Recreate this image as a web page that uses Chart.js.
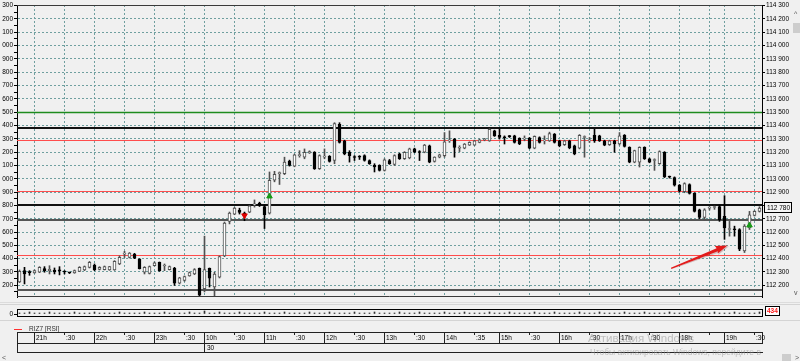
<!DOCTYPE html>
<html>
<head>
<meta charset="utf-8">
<script src="https://cdn.jsdelivr.net/npm/chart.js@4.4.1/dist/chart.umd.min.js"></script>
<style>
  html, body { margin: 0; padding: 0; }
  body { width: 800px; height: 361px; background: #f0f0f0; position: relative; overflow: hidden;
         font-family: "Liberation Sans", Arial, sans-serif; font-size: 6.5px; color: #000; }
  .a { position: absolute; }
  .t { position: absolute; white-space: nowrap; line-height: 1; color: #000; }
  #deco { position: absolute; left: 0; top: 0; width: 800px; height: 361px; opacity: 0.999; pointer-events: none; }
  #mainC { position: absolute; left: 0; top: 0; }
  #volC { position: absolute; left: 0; top: 306px; }
</style>
</head>
<body>
<canvas id="mainC" width="800" height="302"></canvas>
<canvas id="volC" width="800" height="13"></canvas>
<div id="deco"></div>
<script>
// ---- данные свечей (5 мин) ----
const opens = [112225,112310,112300,112293,112298,112325,112310,112315,112310,112303,112295,112293,112305,112315,112335,112350,112320,112318,112315,112315,
  112360,112434,112409,112434,112397,112298,112290,112347,112372,112345,112318,112327,112216,112236,112271,112285,112327,112174,112327,112187,
  112261,112421,112680,112735,112765,112742,112750,112804,112816,112792,112742,112989,113039,113039,113132,113095,113174,113162,113194,113199,
  113076,113162,113169,113137,113409,113285,113199,113162,113164,113174,113137,113100,113100,113063,113137,113108,113187,113150,113157,113224,
  113199,113199,113248,113130,113162,113174,113285,113298,113229,113229,113253,113253,113273,113293,113285,113360,113327,113310,113318,113322,
  113303,113298,113305,113229,113310,113285,113285,113335,113285,113256,113285,113248,113229,113310,113285,113327,113322,113285,113256,113285,
  113261,113327,113236,113125,113125,113236,113150,113137,113113,113199,113014,113009,112952,112903,112957,112890,112767,112710,112779,112784,
  112792,112718,112619,112619,112619,112458,112631,112725,112755];
const highs = [112315,112335,112310,112315,112340,112340,112347,112330,112340,112310,112298,112315,112340,112345,112379,112360,112340,112345,112342,112385,
  112421,112455,112446,112440,112400,112340,112345,112375,112375,112360,112345,112335,112260,112270,112300,112325,112330,112569,112330,112298,
  112420,112675,112750,112785,112779,112750,112800,112841,112824,112804,113051,113056,113051,113162,113140,113185,113211,113224,113210,113204,
  113180,113224,113174,113421,113421,113290,113211,113174,113174,113180,113142,113113,113105,113150,113145,113180,113192,113204,113230,113230,
  113211,113258,113253,113165,113185,113347,113360,113303,113248,113265,113278,113290,113298,113303,113377,113365,113372,113322,113325,113327,
  113308,113322,113310,113322,113315,113322,113350,113340,113290,113290,113290,113253,113332,113322,113310,113372,113327,113290,113290,113290,
  113347,113332,113240,113215,113240,113240,113155,113150,113210,113204,113020,113014,112957,112970,112962,112895,112772,112775,112790,112795,
  112804,112873,112680,112644,112625,112656,112755,112760,112790];
const lows = [112220,112210,112275,112290,112295,112298,112285,112285,112278,112285,112288,112290,112303,112310,112330,112310,112315,112315,112312,112312,
  112355,112409,112405,112400,112322,112285,112285,112345,112305,112310,112315,112199,112210,112230,112268,112280,112115,112150,112187,112113,
  112255,112415,112661,112730,112735,112685,112745,112787,112792,112626,112735,112977,112957,113031,113095,113090,113162,113150,113190,113070,
  113070,113150,113125,113113,113268,113180,113125,113137,113145,113132,113108,113051,113058,113058,113108,113100,113145,113145,113150,113195,
  113137,113195,113120,113125,113157,113162,113273,113162,113204,113225,113250,113250,113270,113285,113281,113318,113298,113261,113310,113268,
  113256,113285,113225,113225,113268,113261,113280,113268,113240,113250,113225,113180,113224,113162,113273,113273,113280,113248,113250,113199,
  113253,113238,113120,113120,113088,113145,113120,113063,113108,113009,113005,112945,112900,112895,112885,112750,112700,112690,112765,112770,
  112680,112545,112569,112569,112460,112446,112619,112720,112750];
const closes = [112305,112285,112295,112310,112335,112310,112320,112300,112308,112300,112293,112310,112335,112340,112372,112315,112335,112340,112340,112379,
  112409,112436,112441,112404,112325,112335,112340,112369,112310,112347,112340,112216,112256,112266,112295,112318,112125,112318,112253,112285,
  112416,112668,112742,112779,112747,112732,112797,112806,112804,112730,112989,113034,113041,113125,113100,113179,113176,113199,113204,113076,
  113174,113164,113130,113414,113273,113187,113174,113160,113162,113137,113113,113088,113063,113142,113113,113174,113150,113199,113224,113199,
  113197,113253,113125,113162,113179,113278,113287,113236,113231,113261,113273,113285,113293,113295,113372,113322,113310,113308,113316,113273,
  113261,113300,113229,113318,113273,113287,113340,113273,113248,113285,113231,113187,113327,113312,113287,113285,113285,113253,113285,113261,
  113322,113243,113125,113211,113236,113150,113125,113139,113204,113014,113012,112952,112908,112964,112890,112755,112710,112767,112781,112786,
  112693,112631,112621,112617,112471,112644,112730,112755,112780];

// нижняя панель RIZ7 [RSI] — мелкие отметки у нуля
const subVals = [1,1,2,1,1,1,2,1,1,1,1,2,1,1,1,2,1,1,1,1,2,1,1,1,1,2,1,1,1,2,1,1,1,1,2,1,1,3,1,1,
  2,1,1,1,2,1,1,1,1,2,1,1,1,2,1,1,1,1,2,1,1,1,2,1,1,1,1,2,1,1,1,2,1,1,1,1,2,1,1,1,
  2,1,1,1,1,2,1,1,1,2,1,1,1,1,2,1,1,1,2,1,1,1,1,2,1,1,1,2,1,1,1,1,2,1,1,1,2,1,1,1,
  1,2,1,1,1,2,1,1,1,1,2,1,1,1,2,1,1,1,1,2,1,1,1,2,1,1,1,1,2];
const subLast = '434';

// ценовая шкала
const priceTicks = [112200,112300,112400,112500,112600,112700,112800,112900,113000,113100,113200,
  113300,113400,113500,113600,113700,113800,113900,114000,114100,114200,114300];
const halfTicks = priceTicks.map(v => v - 50);

// уровни (горизонтальные линии)
const levelPrices = [113500, 113380, 113290, 112910, 112805, 112690, 112430, 112165];
const levelColors = ['#1e8c1e', '#111111', '#ff4c4c', '#ff4c4c', '#111111', '#555555', '#ff4c4c', '#555555'];
const levelWidths = [1.5, 2, 1, 1, 2, 2, 1, 2];

// сигналы
const sellIdx = [45], sellPrice = [112724];
const buyIdx = [50, 146], buyPrice = [112868, 112650];

// стрелка (в координатах данных)
const arrowFrom = [130.3, 112330], arrowTo = [141.6, 112498];

// шкала времени
const timeIdx = [3, 9, 15, 21, 27, 33, 37, 43, 49, 55, 61, 67, 73, 79, 85, 91, 96, 102, 108, 114, 120, 126, 132, 138, 141, 147];
const timeLabels = ['21h', ':30', '22h', ':30', '23h', ':30', '10h', ':30', '11h', ':30', '12h', ':30', '13h', ':30', '14h', ':35',
  '15h', ':30', '16h', ':30', '17h', ':30', '18h', '', '19h', ':30'];
const dayIdx = 37, dayLabel = '30';

const yMin = 112112, yMax = 114305;
const GRID = '#6f9f9f';
const FONT = { family: '"Liberation Sans", Arial, sans-serif', size: 6.5 };
const cats = opens.map((_, i) => i);
const isUp = i => closes[i] >= opens[i];

const fmtR = v => Math.floor(v / 1000) + ' ' + String(v % 1000).padStart(3, '0');
const fmtL = v => String(v % 1000).padStart(3, '0');

const overlay = {
  id: 'overlay',
  beforeDatasetsDraw(chart) {
    const { ctx, chartArea: a, scales: { y } } = chart;
    ctx.save();
    levelPrices.forEach((p, k) => {
      const py = Math.round(y.getPixelForValue(p)) + (levelWidths[k] % 2 ? 0.5 : 0);
      ctx.strokeStyle = levelColors[k];
      ctx.lineWidth = levelWidths[k];
      ctx.beginPath(); ctx.moveTo(a.left, py); ctx.lineTo(a.right, py); ctx.stroke();
    });
    ctx.restore();
  },
  afterDatasetsDraw(chart) {
    const { ctx, chartArea: a, scales: { x, y } } = chart;
    // стрелка
    const x1 = x.getPixelForValue(arrowFrom[0]), y1 = y.getPixelForValue(arrowFrom[1]);
    const x2 = x.getPixelForValue(arrowTo[0]), y2 = y.getPixelForValue(arrowTo[1]);
    const ang = Math.atan2(y2 - y1, x2 - x1);
    const len = Math.hypot(x2 - x1, y2 - y1);
    ctx.save();
    ctx.translate(x1, y1); ctx.rotate(ang);
    ctx.fillStyle = 'rgba(110,0,0,0.22)';
    ctx.beginPath();
    ctx.moveTo(1, 1.6); ctx.lineTo(len - 11, 3.2); ctx.lineTo(len - 12, 5.4); ctx.lineTo(len + 1, 1.2); ctx.lineTo(len - 12, -2); ctx.lineTo(len - 11, 0.6); ctx.closePath();
    ctx.fill();
    ctx.fillStyle = '#e21b1b';
    ctx.beginPath();
    ctx.moveTo(0, -0.3); ctx.lineTo(len - 11, -1.6); ctx.lineTo(len - 12, -4.2); ctx.lineTo(len, 0); ctx.lineTo(len - 12, 3.8); ctx.lineTo(len - 11, 1.6); ctx.lineTo(0, 1.1); ctx.closePath();
    ctx.fill();
    ctx.restore();
    // рамка
    ctx.save();
    ctx.strokeStyle = '#3a3a3a'; ctx.lineWidth = 1;
    ctx.beginPath();
    ctx.moveTo(a.left, Math.round(a.top) + 0.5); ctx.lineTo(a.right, Math.round(a.top) + 0.5);
    ctx.moveTo(a.left, Math.round(a.bottom) - 0.5); ctx.lineTo(a.right, Math.round(a.bottom) - 0.5);
    ctx.stroke();
    // метка последней цены
    const last = closes[closes.length - 1];
    const ly = Math.round(y.getPixelForValue(last));
    ctx.fillStyle = '#f4f4f4';
    ctx.fillRect(a.right + 2, ly - 6, 28, 11);
    ctx.strokeStyle = '#000';
    ctx.strokeRect(a.right + 2.5, ly - 5.5, 27, 10);
    ctx.fillStyle = '#000';
    ctx.font = '6.5px "Liberation Sans", Arial, sans-serif';
    ctx.textBaseline = 'middle';
    ctx.fillText(fmtR(last), a.right + 5, ly);
    ctx.restore();
  }
};

const mainChart = new Chart(document.getElementById('mainC'), {
  type: 'bar',
  data: {
    labels: cats,
    datasets: [
      {
        type: 'scatter', label: 'sell', order: 0,
        data: sellIdx.map((ix, k) => ({ x: ix, y: sellPrice[k] })),
        pointStyle: 'triangle', rotation: 180, radius: 3.2,
        backgroundColor: '#e00000', borderColor: '#e00000', borderWidth: 1
      },
      {
        type: 'scatter', label: 'buy', order: 0,
        data: buyIdx.map((ix, k) => ({ x: ix, y: buyPrice[k] })),
        pointStyle: 'triangle', radius: 3.2,
        backgroundColor: '#169a16', borderColor: '#169a16', borderWidth: 1
      },
      {
        label: 'body', order: 1, grouped: false,
        data: opens.map((o, i) => [o, closes[i]]),
        barThickness: 3, minBarLength: 1, borderSkipped: false, borderWidth: 1,
        backgroundColor: c => isUp(c.dataIndex) ? '#ffffff' : '#000000',
        borderColor: c => isUp(c.dataIndex) ? '#505050' : '#000000'
      },
      {
        label: 'wick', order: 2, grouped: false,
        data: lows.map((l, i) => [l, highs[i]]),
        barThickness: 1, borderWidth: 0,
        backgroundColor: c => isUp(c.dataIndex) ? '#505050' : '#000000'
      }
    ]
  },
  options: {
    responsive: false, animation: false,
    layout: { padding: { top: 4, bottom: 2, left: 0, right: 7 } },
    plugins: { legend: { display: false }, tooltip: { enabled: false } },
    scales: {
      x: {
        type: 'category', offset: true,
        ticks: { display: false },
        grid: { offset: false, drawTicks: false, lineWidth: 1,
                color: c => timeIdx.includes(c.index) ? GRID : 'rgba(0,0,0,0)' },
        border: { display: false, dash: [2, 2] }
      },
      y: {
        position: 'left', min: yMin, max: yMax,
        afterBuildTicks: s => { s.ticks = priceTicks.concat(halfTicks).sort((p, q) => p - q).map(v => ({ value: v })); },
        ticks: { autoSkip: false, font: FONT, color: '#000', padding: 1,
                 callback: v => (v % 100 === 0 ? fmtL(v) : '') },
        grid: { tickLength: 3, tickColor: '#000', lineWidth: 1,
                color: c => (c.tick && c.tick.value % 100 === 0 ? GRID : 'rgba(0,0,0,0)') },
        border: { color: '#000', width: 1, dash: [2, 2] },
        afterFit: s => { s.width = 17; s.paddingTop = 0; s.paddingBottom = 0; }
      },
      y2: {
        position: 'right', min: yMin, max: yMax,
        afterBuildTicks: s => { s.ticks = priceTicks.map(v => ({ value: v })); },
        ticks: { autoSkip: false, font: FONT, color: '#000', padding: 1, callback: v => fmtR(v) },
        grid: { drawOnChartArea: false, tickLength: 3, tickColor: '#000' },
        border: { color: '#000', width: 1 },
        afterFit: s => { s.width = 31; s.paddingTop = 0; s.paddingBottom = 0; }
      }
    }
  },
  plugins: [overlay]
});

// нижняя панель
const subFrame = {
  id: 'subFrame',
  afterDraw(chart) {
    const { ctx, chartArea: a } = chart;
    ctx.save();
    ctx.strokeStyle = '#000'; ctx.lineWidth = 1;
    ctx.strokeRect(Math.round(a.left) + 0.5, Math.round(a.top) + 0.5, Math.round(a.right - a.left), Math.round(a.bottom - a.top) - 1);
    ctx.fillStyle = '#fff';
    ctx.fillRect(a.right + 3, 0, 15, 10);
    ctx.strokeRect(a.right + 3.5, 0.5, 14, 9);
    ctx.fillStyle = '#ff1a1a';
    ctx.font = 'bold 6.5px "Liberation Sans", Arial, sans-serif';
    ctx.textBaseline = 'middle';
    ctx.fillText(subLast, a.right + 5, 5.5);
    ctx.restore();
  }
};
new Chart(document.getElementById('volC'), {
  type: 'bar',
  data: { labels: cats, datasets: [{ data: subVals, backgroundColor: '#333', barThickness: 1, borderWidth: 0 }] },
  options: {
    responsive: false, animation: false,
    layout: { padding: { top: 3, bottom: 2, left: 0, right: 7 } },
    plugins: { legend: { display: false }, tooltip: { enabled: false } },
    scales: {
      x: { offset: true, display: false },
      y: {
        position: 'left', min: -3, max: 5,
        afterBuildTicks: s => { s.ticks = [{ value: 0 }]; },
        ticks: { font: FONT, color: '#000', padding: 1, callback: () => '0' },
        grid: { drawOnChartArea: false, tickLength: 3, tickColor: '#000' },
        border: { display: false },
        afterFit: s => { s.width = 17; s.paddingTop = 0; s.paddingBottom = 0; }
      },
      y2: { position: 'right', display: true, ticks: { display: false }, grid: { display: false }, border: { display: false },
            afterFit: s => { s.width = 31; } }
    }
  },
  plugins: [subFrame]
});

// декор: шкала времени, легенда, прокрутка, надпись
const deco = document.getElementById('deco');
const add = (cls, css, txt) => {
  const d = document.createElement('div');
  d.className = cls; d.style.cssText = css;
  if (txt !== undefined) d.textContent = txt;
  deco.appendChild(d);
  return d;
};
const xs = mainChart.scales.x;
const L = 17, R = 762;
// разделители панелей
add('a', 'left:0;top:302px;width:800px;height:1px;background:#dcdcdc');
add('a', 'left:0;top:304px;width:800px;height:1px;background:#d4d4d4');
add('a', 'left:0;top:320px;width:800px;height:1px;background:#d4d4d4');
// легенда
add('a', `left:14px;top:329px;width:8px;height:1px;background:#ff3030`);
add('t', `left:29px;top:326px;color:#333`, 'RIZ7 [RSI]');
// шкала времени
const T1 = 332, T2 = 343, T3 = 352;
add('a', `left:${L}px;top:${T1}px;width:${R - L + 1}px;height:1px;background:#222`);
add('a', `left:${L}px;top:${T2}px;width:${R - L + 1}px;height:1px;background:#222`);
add('a', `left:${L}px;top:${T3}px;width:${R - L + 1}px;height:1px;background:#222`);
add('a', `left:${L}px;top:${T1}px;width:1px;height:${T3 - T1}px;background:#222`);
add('a', `left:${R}px;top:${T1}px;width:1px;height:${T2 - T1}px;background:#222`);
timeIdx.forEach((ix, k) => {
  const px = Math.floor(xs.getPixelForValue(ix));
  const lab = timeLabels[k];
  const hour = lab.endsWith('h');
  const h = ix === dayIdx ? T3 - T1 : (hour ? T2 - T1 : 3);
  add('a', `left:${px}px;top:${T1}px;width:1px;height:${h}px;background:#222`);
  if (lab) add('t', `left:${px + 2}px;top:${T1 + 3}px`, lab);
});
add('t', `left:${Math.floor(xs.getPixelForValue(dayIdx)) + 3}px;top:${T2 + 2}px`, dayLabel);
// прокрутка справа
add('t', 'left:794px;top:10px;font-size:7px;color:#555', '^');
add('a', 'left:793px;top:23px;width:7px;height:10px;background:#cdcdcd');
add('t', 'left:794px;top:289px;font-size:7px;color:#555', 'v');
// прокрутка снизу
add('t', 'left:2px;top:354px;font-size:7px;color:#555', '<');
add('a', 'left:782px;top:354px;width:9px;height:7px;background:#cdcdcd');
add('t', 'left:795px;top:354px;font-size:7px;color:#555', '>');
// надпись Windows
add('t', 'left:588px;top:333px;font-size:11.5px;color:rgba(150,150,150,0.55)', 'Активация Windows');
add('t', 'left:590px;top:348px;font-size:8.5px;color:rgba(150,150,150,0.55)', 'Чтобы активировать Windows, перейдите в');
</script>
</body>
</html>
